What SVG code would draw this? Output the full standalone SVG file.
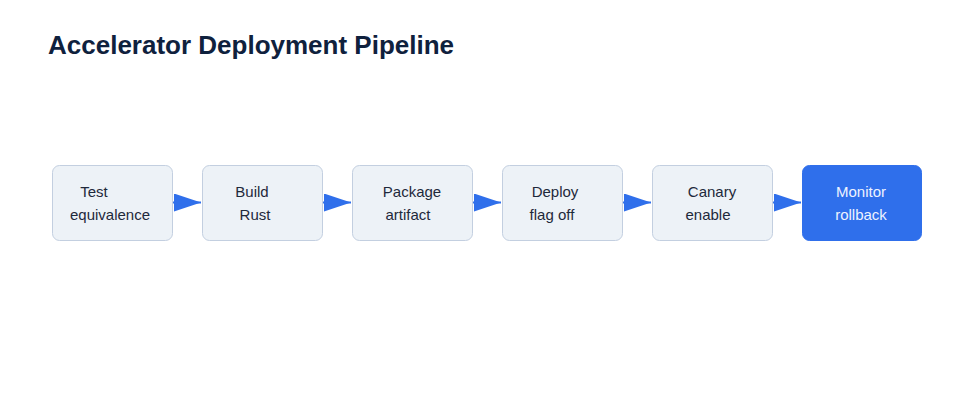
<svg xmlns="http://www.w3.org/2000/svg" width="960" height="420" viewBox="0 0 960 420">
<defs>
<style>
.node rect{fill:#edf2f7;stroke:#c3cfe0;stroke-width:1}
.node.hl rect{fill:#2f6feb;stroke:#2f6feb}
.node text{font-family:"Liberation Sans",Arial,sans-serif;font-size:15px;fill:#1e293b;text-anchor:middle}
.node.hl text{fill:#eef3ff}
.title{font-family:"Liberation Sans",Arial,sans-serif;font-size:26px;font-weight:bold;fill:#0f213d}
.edge{stroke:#2f6feb;stroke-width:2;fill:none}
</style>
<marker id="arr" viewBox="0 0 27 18" refX="27" refY="9" markerWidth="27" markerHeight="18" markerUnits="userSpaceOnUse" orient="auto">
<path d="M0,0 L27,9 L0,18 Z" fill="#2f6feb"/>
</marker>
</defs>
<rect width="960" height="420" fill="#ffffff"/>
<text class="title" x="48" y="54">Accelerator Deployment Pipeline</text>
<g id="connectors">
<line class="edge" x1="172" y1="202.5" x2="201" y2="202.5" marker-end="url(#arr)"/>
<line class="edge" x1="322" y1="202.5" x2="351" y2="202.5" marker-end="url(#arr)"/>
<line class="edge" x1="472" y1="202.5" x2="501" y2="202.5" marker-end="url(#arr)"/>
<line class="edge" x1="622" y1="202.5" x2="651" y2="202.5" marker-end="url(#arr)"/>
<line class="edge" x1="772" y1="202.5" x2="801" y2="202.5" marker-end="url(#arr)"/>
</g>
<g id="node1" class="node">
<rect x="52.5" y="165.5" width="120" height="75" rx="7"/>
<text x="94" y="197">Test</text>
<text x="110" y="220">equivalence</text>
</g>
<g id="node2" class="node">
<rect x="202.5" y="165.5" width="120" height="75" rx="7"/>
<text x="252" y="197">Build</text>
<text x="255" y="220">Rust</text>
</g>
<g id="node3" class="node">
<rect x="352.5" y="165.5" width="120" height="75" rx="7"/>
<text x="412" y="197">Package</text>
<text x="408" y="220">artifact</text>
</g>
<g id="node4" class="node">
<rect x="502.5" y="165.5" width="120" height="75" rx="7"/>
<text x="555" y="197">Deploy</text>
<text x="552" y="220">flag off</text>
</g>
<g id="node5" class="node">
<rect x="652.5" y="165.5" width="120" height="75" rx="7"/>
<text x="712" y="197">Canary</text>
<text x="708" y="220">enable</text>
</g>
<g id="node6" class="node hl">
<rect x="802.5" y="165.5" width="119" height="75" rx="7"/>
<text x="861" y="197">Monitor</text>
<text x="861" y="220">rollback</text>
</g>
</svg>
